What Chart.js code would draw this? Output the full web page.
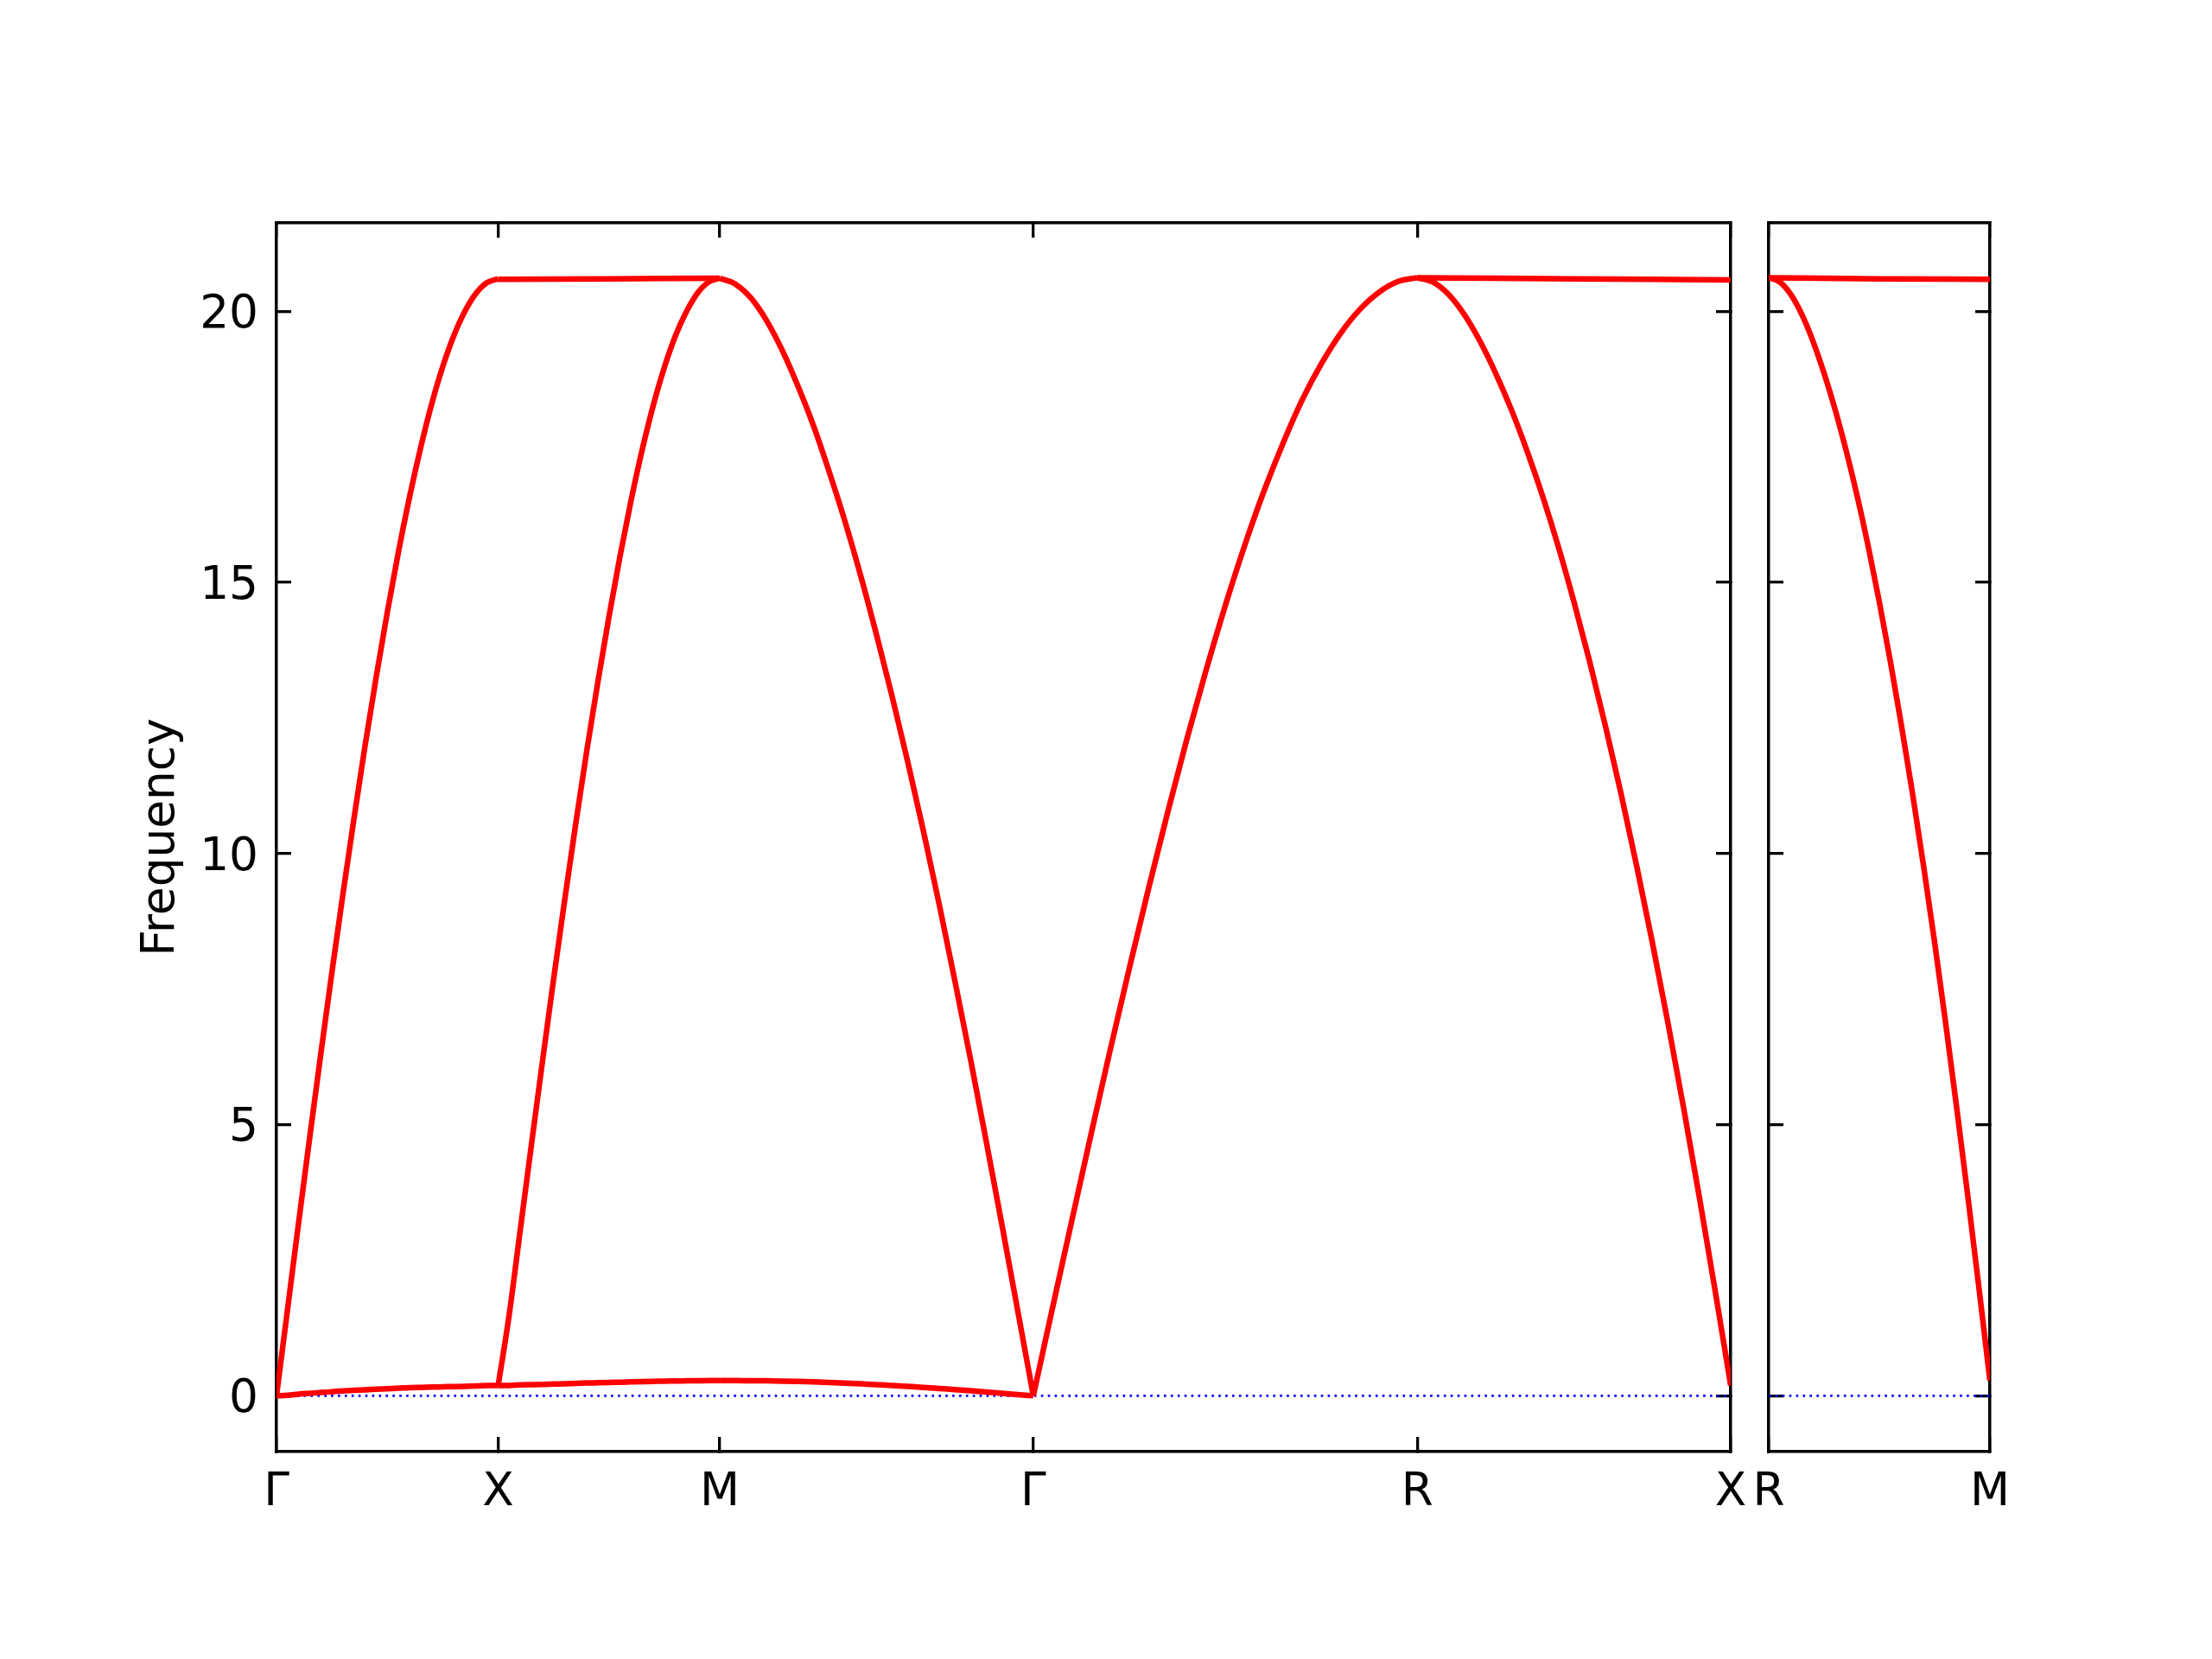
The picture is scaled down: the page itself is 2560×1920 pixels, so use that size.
<!DOCTYPE html>
<html>
<head>
<meta charset="utf-8">
<script src="https://cdn.jsdelivr.net/npm/chart.js@4.4.0/dist/chart.umd.min.js"></script>
<style>
  html, body { margin: 0; padding: 0; background: #fff; }
  #wrap { position: relative; width: 2560px; height: 1920px; }
  canvas { position: absolute; left: 0; top: 0; }
</style>
</head>
<body>
<div id="wrap">
  <canvas id="main" width="2560" height="1920"></canvas>
  <canvas id="side" width="2560" height="1920"></canvas>
</div>
<script>
// path positions of the high-symmetry points
const kMain = [0, 1, 2, 3.4142, 5.1463, 6.5605];
const labelsMain = ['Γ', 'X', 'M', 'Γ', 'R', 'X'];
const kSide = [0, 1];
const labelsSide = ['R', 'M'];
const yTicks = [0, 5, 10, 15, 20];

const frac = [0, 0.05, 0.1, 0.15, 0.2, 0.25, 0.3, 0.35, 0.4, 0.45, 0.5,
              0.55, 0.6, 0.65, 0.7, 0.75, 0.8, 0.85, 0.9, 0.95, 1];
const fracFlat = [0, 0.5, 1];

// Γ-X
const gxUpper = [0, 1.6, 3.2, 4.77, 6.31, 7.81, 9.26, 10.66, 12.0, 13.26, 14.45,
                 15.56, 16.57, 17.48, 18.29, 18.98, 19.55, 20.0, 20.33, 20.53, 20.6];
const gxLower = [0, 0.01, 0.03, 0.045, 0.06, 0.075, 0.09, 0.1, 0.11, 0.12, 0.13,
                 0.14, 0.15, 0.155, 0.16, 0.165, 0.17, 0.175, 0.18, 0.19, 0.19];
// X-M
const xmFlat = [20.59, 20.6, 20.61];
const xmRising = [0.19, 1.5, 3.07, 4.63, 6.17, 7.68, 9.14, 10.55, 11.9, 13.17, 14.37,
                  15.49, 16.52, 17.45, 18.27, 18.97, 19.55, 20.0, 20.34, 20.54, 20.61];
const xmLower = [0.19, 0.19, 0.2, 0.205, 0.21, 0.215, 0.22, 0.228, 0.235, 0.24, 0.245,
                 0.25, 0.255, 0.26, 0.265, 0.27, 0.272, 0.275, 0.278, 0.28, 0.28];
// M-Γ
const mgUpper = [20.61, 20.5, 20.24, 19.82, 19.27, 18.61, 17.87, 17.02, 16.11, 15.11, 14.03,
                 12.89, 11.68, 10.4, 9.06, 7.65, 6.2, 4.69, 3.15, 1.58, 0];
const mgLower = [0.28, 0.28, 0.278, 0.275, 0.27, 0.263, 0.255, 0.245, 0.233, 0.22, 0.205,
                 0.19, 0.173, 0.155, 0.135, 0.115, 0.093, 0.07, 0.047, 0.023, 0];
// Γ-R
const grUpper = [0, 1.62, 3.22, 4.81, 6.37, 7.88, 9.35, 10.76, 12.11, 13.38, 14.57,
                 15.67, 16.67, 17.56, 18.36, 19.03, 19.59, 20.03, 20.35, 20.55, 20.62];
// R-X
const rxUpper = [20.62, 20.54, 20.31, 19.94, 19.45, 18.86, 18.19, 17.43, 16.59, 15.66, 14.64,
                 13.54, 12.36, 11.11, 9.77, 8.36, 6.87, 5.3, 3.66, 1.95, 0.19];
const rxFlat = [20.62, 20.6, 20.58];
// R-M (second panel)
const rmUpper = [20.62, 20.54, 20.31, 19.94, 19.45, 18.86, 18.19, 17.43, 16.59, 15.66, 14.64,
                 13.54, 12.36, 11.11, 9.77, 8.36, 6.87, 5.3, 3.68, 2.0, 0.28];
const rmFlat = [20.62, 20.6, 20.59];

const mainSegments = [
  [0, 1, gxUpper], [0, 1, gxLower],
  [1, 2, xmFlat], [1, 2, xmRising], [1, 2, xmLower],
  [2, 3, mgUpper], [2, 3, mgLower],
  [3, 4, grUpper],
  [4, 5, rxUpper], [4, 5, rxFlat]
];
const sideSegments = [
  [0, 1, rmUpper], [0, 1, rmFlat]
];

const FONT = 53.3;
Chart.defaults.font.family = 'DejaVu Sans';
Chart.defaults.font.size = FONT;
Chart.defaults.color = '#000';

function bandSets(kPts, segments) {
  const sets = segments.map(([a, b, vals]) => {
    const f = vals.length === fracFlat.length ? fracFlat : frac;
    return {
      data: vals.map((v, i) => ({ x: kPts[a] + f[i] * (kPts[b] - kPts[a]), y: v })),
      borderColor: '#ff0000',
      borderWidth: 6.5,
      showLine: true,
      pointRadius: 0,
      cubicInterpolationMode: 'monotone'
    };
  });
  // dotted zero line, under the bands
  sets.push({
    data: [{ x: kPts[0], y: 0 }, { x: kPts[kPts.length - 1], y: 0 }],
    borderColor: '#0000ff',
    borderWidth: 2.6,
    borderDash: [2.6, 5.3],
    showLine: true,
    pointRadius: 0
  });
  return sets;
}

function axisX(kPts, labels, pos, showLabels) {
  return {
    type: 'linear',
    position: pos,
    min: kPts[0],
    max: kPts[kPts.length - 1],
    afterBuildTicks: s => { s.ticks = kPts.map(v => ({ value: v })); },
    afterFit: s => { s.height = pos === 'bottom' ? 100 : 20; },
    border: { display: true, color: '#000', width: 3.5 },
    grid: { display: true, drawOnChartArea: false, drawTicks: true, tickLength: -17, color: '#000', lineWidth: 3.3 },
    ticks: {
      display: showLabels,
      autoSkip: false,
      maxRotation: 0,
      minRotation: 0,
      padding: 33,
      callback: (v, i) => labels[i]
    }
  };
}

function axisY(pos, width, showLabels, title) {
  return {
    type: 'linear',
    position: pos,
    min: -1.03,
    max: 21.63,
    afterBuildTicks: s => { s.ticks = yTicks.map(v => ({ value: v })); },
    afterFit: s => { s.width = width; },
    border: { display: true, color: '#000', width: 3.5 },
    grid: { display: true, drawOnChartArea: false, drawTicks: true, tickLength: -17, color: '#000', lineWidth: 3.3 },
    ticks: { display: showLabels, padding: 38, labelOffset: 5, callback: v => String(v) },
    title: title ? {
      display: true,
      text: title,
      color: '#000',
      font: { size: FONT },
      padding: { top: 155, bottom: 0 }
    } : { display: false }
  };
}

function makeChart(id, kPts, labels, segments, pad, yWidth, yTitle, showY) {
  return new Chart(document.getElementById(id), {
    type: 'scatter',
    data: { datasets: bandSets(kPts, segments) },
    options: {
      responsive: false,
      animation: false,
      layout: { padding: pad },
      plugins: { legend: { display: false }, tooltip: { enabled: false } },
      scales: {
        x: axisX(kPts, labels, 'bottom', true),
        x2: axisX(kPts, labels, 'top', false),
        y: axisY('left', yWidth, showY, yTitle),
        y2: axisY('right', 20, false, null)
      }
    }
  });
}

makeChart('main', kMain, labelsMain, mainSegments,
  { left: 0, top: 238, right: 537, bottom: 140 }, 320, 'Frequency', true);
makeChart('side', kSide, labelsSide, sideSegments,
  { left: 2027, top: 238, right: 237, bottom: 140 }, 20, null, false);
</script>
</body>
</html>
